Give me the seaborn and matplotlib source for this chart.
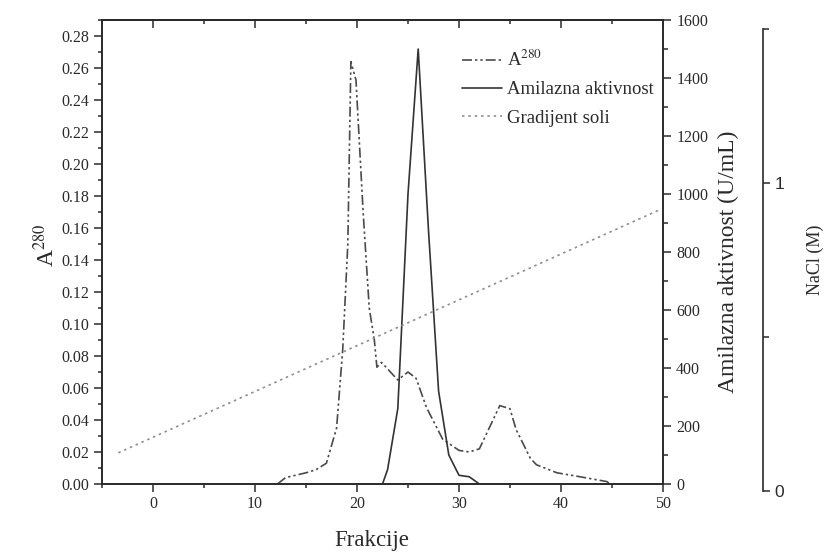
import matplotlib
matplotlib.use("Agg")
import matplotlib.pyplot as plt
import numpy as np
import pandas as pd
import seaborn as sns
from matplotlib.ticker import MultipleLocator, FormatStrFormatter, FixedLocator

# Absorbance at 280 nm per fraction
frakcija_a280 = [12.2, 13.0, 15.0, 16.0, 17.0, 18.0, 18.6, 19.1, 19.4, 19.9,
                 20.6, 21.2, 21.7, 21.95, 22.4, 22.7, 24.0, 25.0, 25.8, 26.8,
                 28.4, 30.0, 31.0, 32.0, 34.0, 35.0, 35.6, 37.0, 37.6, 39.6,
                 41.8, 44.5, 44.8]
a280 = [0.000, 0.004, 0.007, 0.009, 0.013, 0.035, 0.084, 0.150, 0.264, 0.2525,
        0.170, 0.110, 0.090, 0.073, 0.076, 0.074, 0.065, 0.070, 0.066, 0.048,
        0.028, 0.021, 0.020, 0.022, 0.049, 0.047, 0.034, 0.016, 0.012, 0.007,
        0.0046, 0.0015, 0.000]

# Amylase activity (U/mL)
frakcija_amilaza = [22.5, 23, 24, 25, 26, 27, 28, 29, 30, 31, 32]
amilaza = [0, 50, 260, 1000, 1500, 880, 320, 100, 30, 25, 0]

# NaCl gradient (M)
frakcija_nacl = [-3.4, 49.6]
nacl = [0.124, 0.912]

df_a = pd.DataFrame({"x": frakcija_a280, "y": a280})
df_m = pd.DataFrame({"x": frakcija_amilaza, "y": amilaza})
df_s = pd.DataFrame({"x": frakcija_nacl, "y": nacl})

sns.set_theme(style="ticks")
plt.rcParams["font.family"] = ["Liberation Serif", "DejaVu Serif"]
plt.rcParams["mathtext.fontset"] = "stix"

W, H = 824, 557
fig = plt.figure(figsize=(W / 100, H / 100), dpi=100)
L, R, B, T = 102 / W, 663 / W, 1 - 484 / H, 1 - 20 / H
ax = fig.add_axes([L, B, R - L, T - B])
ax2 = ax.twinx()
B3, T3 = 1 - 491 / H, 1 - 29 / H
ax3 = fig.add_axes([L, B3, R - L, T3 - B3])

spine_c = "#2a2a2a"
text_c = "#2a2a2a"

sns.lineplot(data=df_a, x="x", y="y", ax=ax, sort=False, estimator=None,
             color="#4a4a4a", lw=1.2, dashes=False, label="A$^{280}$",
             legend=False)
ax.lines[-1].set_dashes([6, 1.8, 1.4, 1.8, 1.4, 1.8])

sns.lineplot(data=df_m, x="x", y="y", ax=ax2, sort=False, estimator=None,
             color="#333333", lw=1.2, label="Amilazna aktivnost", legend=False)

sns.lineplot(data=df_s, x="x", y="y", ax=ax3, sort=False, estimator=None,
             color="#8f8f8f", lw=1.2, label="Gradijent soli", legend=False)
ax3.lines[-1].set_dashes([1.5, 2.3])

# main axis
ax.set_xlim(-5, 50)
ax.set_ylim(0, 0.29)
ax.xaxis.set_major_locator(MultipleLocator(10))
ax.xaxis.set_minor_locator(MultipleLocator(5))
ax.yaxis.set_major_locator(FixedLocator(np.round(np.arange(0, 0.2801, 0.02), 2)))
ax.yaxis.set_minor_locator(MultipleLocator(0.01))
ax.yaxis.set_major_formatter(FormatStrFormatter("%.2f"))
ax.tick_params(axis="both", which="both", colors=spine_c, labelcolor=text_c,
               labelsize=11.5, width=1.1, direction="out",
               top=False, right=False)
ax.tick_params(which="major", length=5.5)
ax.tick_params(which="minor", length=3)
for s in ax.spines.values():
    s.set_color(spine_c)
    s.set_linewidth(1.2)

# top edge carries inward ticks without labels
top = ax.secondary_xaxis("top")
top.xaxis.set_major_locator(MultipleLocator(10))
top.xaxis.set_minor_locator(MultipleLocator(5))
top.tick_params(axis="x", which="both", direction="in", colors=spine_c,
                width=1.1, labeltop=False)
top.tick_params(which="major", length=6)
top.tick_params(which="minor", length=3)
top.spines["top"].set_color(spine_c)
top.spines["top"].set_linewidth(1.2)

ax.set_xlabel("Frakcije", fontsize=16.5, color=text_c)
ax.xaxis.set_label_coords((372 - 102) / 561, -0.10)
ax.set_ylabel("A$^{280}$", fontsize=17, color=text_c, labelpad=2)
ax.yaxis.label.set_y(1 - (245 - 20) / 464)
ax.grid(False)

# amylase axis
ax2.set_ylim(0, 1600)
ax2.yaxis.set_major_locator(MultipleLocator(200))
ax2.yaxis.set_minor_locator(MultipleLocator(100))
ax2.tick_params(axis="y", which="both", direction="out", colors=spine_c,
                labelcolor=text_c, labelsize=11.5, width=1.1)
ax2.tick_params(which="major", length=6)
ax2.tick_params(which="minor", length=3.5)
ax2.set_ylabel("Amilazna aktivnost (U/mL)", fontsize=17, color=text_c, labelpad=7)
ax2.yaxis.label.set_y(1 - (262 - 20) / 464)
for s in ax2.spines.values():
    s.set_color(spine_c)
    s.set_linewidth(1.2)
ax2.grid(False)

# NaCl axis
ax3.set_xlim(-5, 50)
ax3.set_ylim(0, 1.5)
ax3.patch.set_visible(False)
for k in ("left", "top", "bottom"):
    ax3.spines[k].set_visible(False)
ax3.spines["right"].set_position(("axes", (763 - 102) / 561))
ax3.spines["right"].set_color(spine_c)
ax3.spines["right"].set_linewidth(1.2)
ax3.xaxis.set_visible(False)
ax3.yaxis.tick_right()
ax3.yaxis.set_label_position("right")
ax3.yaxis.set_major_locator(FixedLocator([0, 1]))
ax3.yaxis.set_minor_locator(FixedLocator([0.5, 1.5]))
ax3.tick_params(axis="y", which="both", direction="out", colors=spine_c,
                labelcolor=text_c, width=1.1)
ax3.tick_params(which="major", length=5, labelsize=12.5)
ax3.tick_params(which="minor", length=4)
for lab in ax3.get_yticklabels():
    lab.set_family(["Liberation Sans", "DejaVu Sans"])
ax3.set_ylabel("NaCl (M)", fontsize=13, color=text_c, labelpad=16)
ax3.grid(False)

handles = ax.lines[:1] + ax2.lines[:1] + ax3.lines[:1]
labels = ["A$^{280}$", "Amilazna aktivnost", "Gradijent soli"]
leg = ax3.legend(handles, labels, loc="upper left", bbox_to_anchor=(0.642, 0.955),
                 frameon=False, fontsize=13.5, handlelength=2.1, handletextpad=0.3,
                 labelspacing=0.6, borderaxespad=0, borderpad=0)
for t in leg.get_texts():
    t.set_color(text_c)

fig.savefig("out.png", dpi=100)
